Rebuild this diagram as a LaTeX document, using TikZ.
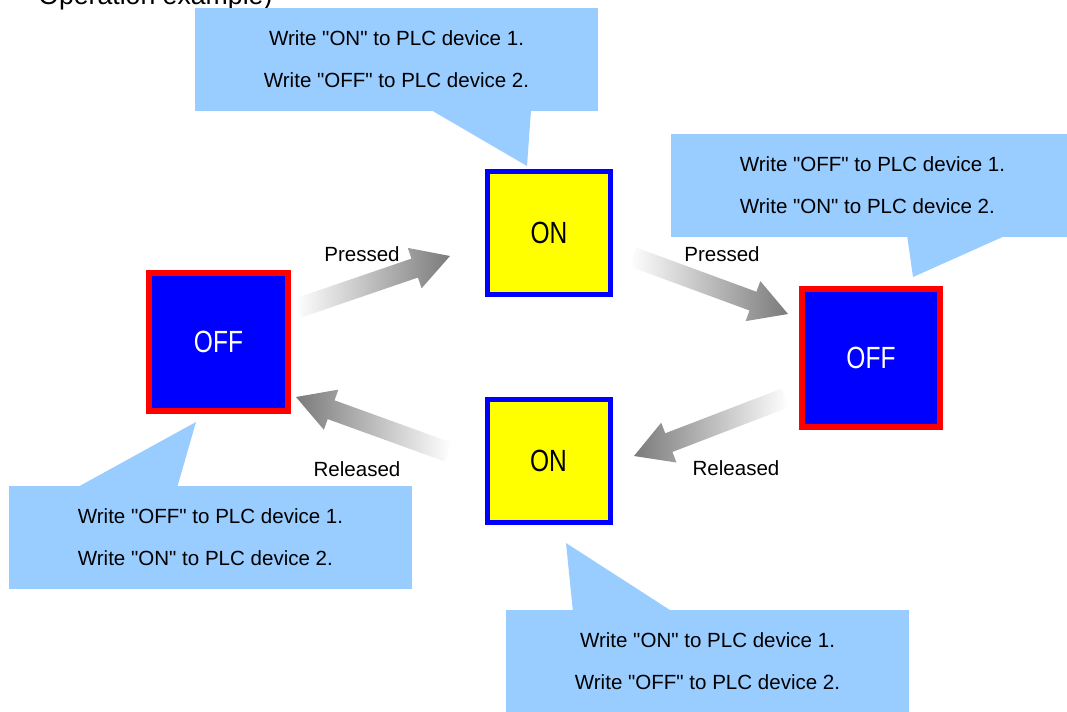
\documentclass[tikz,border=0pt]{standalone}
\usepackage{fontspec}
\setmainfont{Liberation Sans}
\newfontfamily\btnfont[FakeStretch=0.8]{Liberation Sans}
\usepackage{tikz}
\usetikzlibrary{calc,positioning}
\definecolor{callblue}{RGB}{153,204,255}
\definecolor{btnred}{RGB}{255,0,0}
\definecolor{btnblue}{RGB}{0,0,255}
\definecolor{btnyellow}{RGB}{255,255,0}
% straight double quote, past the tex-text mapping
\newcommand{\qt}{\XeTeXglyph\XeTeXcharglyph"0022\relax}

% fat shaded arrow from #2 (tail) to #3 (tip)
\newcommand{\fatarrow}[3]{%
  \coordinate (#2neck) at ($(#3)!28pt!(#2)$);
  \shade[#1] ($(#2)!7.5pt!90:(#3)$) -- ($(#2neck)!7.5pt!90:(#3)$)
    -- ($(#2neck)!16pt!90:(#3)$) -- (#3)
    -- ($(#2neck)!16pt!-90:(#3)$) -- ($(#2neck)!7.5pt!-90:(#3)$)
    -- ($(#2)!7.5pt!-90:(#3)$) -- cycle;
}

\begin{document}
\begin{tikzpicture}[x=0.75pt,y=-0.75pt,
  callout/.style={
    fill=callblue, inner sep=0pt, minimum width=302.25pt, minimum height=77.25pt,
    font=\fontsize{15.4}{31.5}\selectfont
  },
  offbtn/.style={
    draw=btnred, fill=btnblue, line width=4.5pt, minimum size=104pt, inner sep=0pt,
    text=white, font=\btnfont\fontsize{23}{23}\selectfont
  },
  onbtn/.style={
    draw=btnblue, fill=btnyellow, line width=3.75pt, minimum size=92.25pt, inner sep=0pt,
    text=black, font=\btnfont\fontsize{23}{23}\selectfont
  },
  lbl/.style={font=\fontsize{15.4}{18}\selectfont, inner sep=0pt},
  pushright/.style={left color=white, right color=black!52},
  pushleft/.style={left color=black!52, right color=white}
]
  \clip (0,0) rectangle (1067,711);
  \fill[white] (0,0) rectangle (1067,711);

  \node[anchor=base west, inner sep=0pt, font=\fontsize{20}{24}\selectfont] (title) at (38,4) {Operation example)};

  % callouts
  \node[callout, align=center] (msgtop) at (396.5,59.5)
    {Write \qt ON\qt{} to PLC device 1.\\Write \qt OFF\qt{} to PLC device 2.};
  \fill[callblue] (431,110) -- (527,166) -- (531,110) -- cycle;

  \node[callout, align=left] (msgright) at (872.5,185)
    {Write \qt OFF\qt{} to PLC device 1.\\Write \qt ON\qt{} to PLC device 2.};
  \fill[callblue] (907,235) -- (913,277) -- (1007,235) -- cycle;

  \node[callout, align=left, inner xsep=4pt] (msgleft) at (210.5,537.5)
    {Write \qt OFF\qt{} to PLC device 1.\\Write \qt ON\qt{} to PLC device 2.};
  \fill[callblue] (76,488) -- (196,422) -- (177,488) -- cycle;

  \node[callout, align=center] (msgbottom) at (707.5,661.5)
    {Write \qt ON\qt{} to PLC device 1.\\Write \qt OFF\qt{} to PLC device 2.};
  \fill[callblue] (573,612) -- (566,543) -- (673,612) -- cycle;

  % buttons
  \node[offbtn] (offleft)  at (218.5,342) {OFF};
  \node[onbtn]  (ontop)    at (549,233)   {ON};
  \node[offbtn] (offright) at (871,358)   {OFF};
  \node[onbtn]  (onbottom) at (548.5,461) {ON};

  % arrows
  \coordinate (p1a) at (298,308); \coordinate (p1b) at (450,256);
  \coordinate (p2a) at (633,257); \coordinate (p2b) at (788,314);
  \coordinate (r1a) at (785,398); \coordinate (r1b) at (634,456);
  \coordinate (r2a) at (448,452); \coordinate (r2b) at (296,397);
  \fatarrow{pushright}{p1a}{p1b}
  \fatarrow{pushright}{p2a}{p2b}
  \fatarrow{pushleft}{r1a}{r1b}
  \fatarrow{pushleft}{r2a}{r2b}

  \node[lbl] (press1) at (362,254) {Pressed};
  \node[lbl] (press2) at (722,254) {Pressed};
  \node[lbl] (rel1)   at (736,468) {Released};
  \node[lbl] (rel2)   at (357,469) {Released};
\end{tikzpicture}
\end{document}
